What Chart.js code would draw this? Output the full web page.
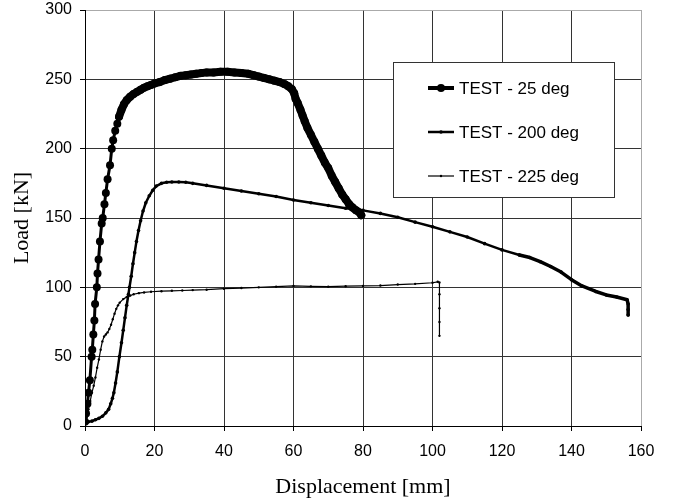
<!DOCTYPE html>
<html>
<head>
<meta charset="utf-8">
<script src="https://cdn.jsdelivr.net/npm/chart.js@4.4.0/dist/chart.umd.min.js"></script>
<style>
  html, body { margin: 0; padding: 0; background: #fff; }
  #wrap { width: 673px; height: 503px; }
</style>
</head>
<body>
<div id="wrap"><canvas id="plot"></canvas></div>
<script>
// Datos: desplazamiento [mm] y carga [kN]
let etiquetas = ['TEST - 25 deg', 'TEST - 200 deg', 'TEST - 225 deg'];

let x25 = [0, 0.3, 0.7, 1.0, 1.4, 1.9, 2.1, 2.4, 2.7, 2.9, 3.4, 3.6, 3.9, 4.3, 4.8, 5.1, 5.6, 6.0, 6.5, 7.2, 7.7, 8.1, 8.7, 9.3, 9.8, 10.5, 11.2, 12.0, 13, 14, 15, 16, 17, 18, 19, 20, 21.5, 23, 24.5, 26, 27.5, 29, 30.5, 32, 33.5, 35, 37, 39, 41, 43, 45, 47, 48.5, 50, 51.5, 53, 54.5, 56, 57.5, 58.5, 59.5, 60.2, 60.6, 61.2, 62, 62.6, 63.2, 64, 65, 66, 67, 68, 69, 70, 71, 72, 73, 74, 75, 76, 77, 78, 79, 79.5];
let y25 = [3, 9, 16, 24, 33, 50, 55, 66, 76, 88, 100, 110, 120, 133, 146, 150, 160, 168, 178, 188, 200, 206, 213, 218, 223, 228, 232, 235, 237.5, 239.5, 241, 242.5, 244, 245, 246, 247, 248, 249.5, 250.5, 251.5, 252.5, 253, 253.5, 254, 254.5, 255, 255, 255.5, 255.5, 255, 254.5, 254, 253, 252, 251, 250, 249, 248, 246.5, 245, 243, 240, 236, 233, 228, 224, 220, 215, 210, 205, 200, 195, 190, 186, 180.5, 176, 171.5, 167, 163.5, 160, 157.5, 155.5, 154, 152];

let x200 = [0, 1, 2, 3, 4, 5, 6, 6.8, 7.4, 7.9, 8.3, 8.8, 9.3, 9.9, 10.5, 11, 11.5, 12, 12.5, 12.8, 13.3, 13.8, 14.3, 14.8, 15.4, 16, 16.7, 17.5, 18.5, 19.5, 20.5, 22, 23.5, 25, 27, 29, 31, 35, 40, 45, 50, 55, 60, 65, 70, 75, 80, 85, 90, 95, 100, 105, 110, 115, 120, 125, 128, 131, 134, 137, 140, 143, 147, 150, 153, 156, 156.3, 156.3, 156.3];
let y200 = [3, 3, 3.5, 4.5, 5.5, 7, 9.5, 12, 16, 20, 24, 31, 39, 50, 60, 69, 78, 87, 95, 100, 108, 117, 125, 133, 141, 148, 155, 161, 166, 170, 173, 175, 175.8, 176, 176, 175.8, 175, 173.5, 171.5, 169.5, 167.5, 165.5, 163, 161, 159, 157, 155.5, 153.3, 150.5, 147, 143.7, 140, 136.3, 131.5, 127, 123.3, 121.5, 118.5, 115, 111, 105.5, 101, 97, 94.5, 93, 91, 88, 84, 80];

let x225 = [0, 0.5, 1, 1.5, 2, 2.5, 3, 3.5, 4, 4.5, 5, 5.5, 6, 6.5, 7, 7.5, 8, 8.5, 9, 9.5, 10, 11, 12, 13, 14, 15.5, 17, 19, 22, 25, 28, 31, 35, 40, 45, 50, 55, 60, 65, 70, 75, 80, 85, 90, 95, 100, 101.5, 102, 102, 102, 102, 102];
let y225 = [2, 6, 12, 18, 24, 29, 35, 42, 48, 55, 61, 64.5, 66, 67.5, 70, 73, 77, 81, 84.5, 87, 89, 91.5, 93, 94, 95, 95.8, 96.3, 96.8, 97.2, 97.5, 97.7, 98, 98.3, 99, 99.5, 100, 100.5, 101, 100.7, 100.5, 100.8, 101, 101.3, 102, 102.5, 103.3, 104, 103.5, 95, 85, 75, 65];

let xTicks = [0, 20, 40, 60, 80, 100, 120, 140, 160];
let yTicks = [0, 50, 100, 150, 200, 250, 300];

let unir = (xs, ys) => xs.map((x, i) => ({ x: x, y: ys[i] }));

let estilos = [
  { ancho: 3, radio: 4 },
  { ancho: 2.5, radio: 1.8 },
  { ancho: 1.2, radio: 1.2 }
];

let series = [unir(x25, y25), unir(x200, y200), unir(x225, y225)];

let datasets = series.map((datos, i) => ({
  label: etiquetas[i],
  data: datos,
  showLine: true,
  borderColor: '#000',
  backgroundColor: '#000',
  borderWidth: estilos[i].ancho,
  borderJoinStyle: 'round',
  borderCapStyle: 'round',
  pointRadius: estilos[i].radio,
  pointBorderWidth: 0,
  pointBackgroundColor: '#000',
  tension: 0
}));

// En la zona donde los puntos del ensayo se amontonan la curva se ve como una banda gruesa
datasets[0].segment = {
  borderWidth: (ctx) => (ctx.p0.parsed.x >= 9.5 ? 8 : 3)
};
datasets[1].segment = {
  borderWidth: (ctx) => (ctx.p0.parsed.x >= 124 ? 3.5 : 2.5)
};

// Leyenda dibujada dentro del area del grafico
let leyendaPlugin = {
  id: 'leyenda',
  afterDraw(chart) {
    let ctx = chart.ctx;
    ctx.save();
    ctx.fillStyle = '#fff';
    ctx.fillRect(393, 62, 221, 135);
    ctx.strokeStyle = '#333';
    ctx.lineWidth = 1;
    ctx.strokeRect(393.5, 62.5, 221, 135);
    let filas = [88, 132, 176];
    let grosor = [4, 2.5, 1.2];
    ctx.font = '17px "Liberation Sans", Arial, sans-serif';
    ctx.textBaseline = 'middle';
    filas.forEach((yy, i) => {
      ctx.strokeStyle = '#000';
      ctx.lineWidth = grosor[i];
      ctx.beginPath();
      ctx.moveTo(428, yy);
      ctx.lineTo(454, yy);
      ctx.stroke();
      ctx.fillStyle = '#000';
      ctx.beginPath();
      ctx.arc(441, yy, estilos[i].radio, 0, Math.PI * 2);
      ctx.fill();
      ctx.fillText(etiquetas[i], 459, yy + 1);
    });
    ctx.restore();
  }
};

let colorGrilla = (ultimo) => (c) => (c.tick && c.tick.value === ultimo ? '#aaa' : '#333');

let config = {
  type: 'scatter',
  data: { datasets: datasets },
  options: {
    responsive: true,
    maintainAspectRatio: false,
    animation: false,
    layout: { padding: { top: 10, right: 32, left: 0, bottom: 0 } },
    plugins: {
      legend: { display: false },
      tooltip: { enabled: false }
    },
    scales: {
      x: {
        type: 'linear',
        min: 0,
        max: 160,
        afterBuildTicks: (axis) => { axis.ticks = xTicks.map(v => ({ value: v })); },
        afterFit: (axis) => {
          axis.height = 77;
          axis.paddingLeft = 0;
          axis.paddingRight = 0;
        },
        grid: { color: colorGrilla(160), tickColor: '#000', tickLength: 5, lineWidth: 1 },
        border: { color: '#000', width: 1 },
        ticks: {
          color: '#000',
          padding: 11,
          maxRotation: 0,
          font: { family: '"Liberation Sans", Arial, sans-serif', size: 16 }
        },
        title: {
          display: true,
          text: 'Displacement [mm]',
          color: '#000',
          padding: { top: 0, bottom: 3 },
          font: { family: '"Liberation Serif", "Times New Roman", serif', size: 22 }
        }
      },
      y: {
        type: 'linear',
        min: 0,
        max: 300,
        afterBuildTicks: (axis) => { axis.ticks = yTicks.map(v => ({ value: v })); },
        afterFit: (axis) => {
          axis.width = 85;
          axis.paddingTop = 0;
          axis.paddingBottom = 0;
        },
        grid: { color: colorGrilla(300), tickColor: '#000', tickLength: 5, lineWidth: 1 },
        border: { color: '#000', width: 1 },
        ticks: {
          color: '#000',
          padding: 8,
          font: { family: '"Liberation Sans", Arial, sans-serif', size: 16 }
        },
        title: {
          display: true,
          text: 'Load [kN]',
          color: '#000',
          padding: { top: 9, bottom: 0 },
          font: { family: '"Liberation Serif", "Times New Roman", serif', size: 22 }
        }
      }
    }
  },
  plugins: [leyendaPlugin]
};

let grafico = new Chart(document.getElementById('plot'), config);
</script>
</body>
</html>
